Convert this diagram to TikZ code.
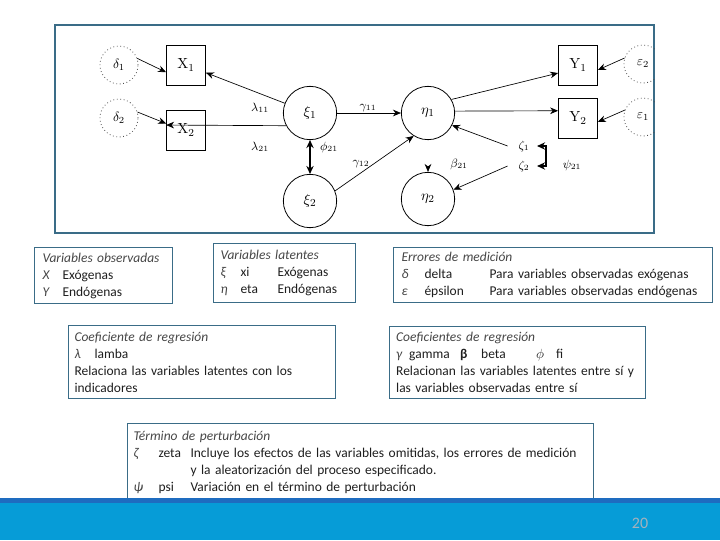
\documentclass[tikz,border=0pt]{standalone}
\usepackage[no-math]{fontspec}
\setmainfont{Carlito}
\usetikzlibrary{arrows.meta,positioning,calc}

\definecolor{framecol}{RGB}{58,108,135}
\definecolor{barcol}{RGB}{6,156,215}
\definecolor{bardark}{RGB}{30,108,192}
\definecolor{inkcol}{RGB}{30,30,30}
\definecolor{headcol}{RGB}{70,70,70}
\definecolor{pagecol}{RGB}{165,178,188}

\newcommand{\hd}[1]{\textit{\color{headcol}#1}}
\newcommand{\cell}[2]{\makebox[#1][l]{#2}}
\newcommand{\sym}[1]{\textit{\color{headcol}#1}}

\begin{document}
\begin{tikzpicture}[x=0.75pt, y=-0.75pt,
    observed/.style={rectangle, draw, line width=0.6pt, minimum width=29.25pt, minimum height=30pt, inner sep=0pt, font=\fontsize{11}{12}\selectfont},
    latent/.style={circle, draw, line width=0.6pt, minimum size=40pt, inner sep=0pt, font=\fontsize{11}{12}\selectfont},
    errcirc/.style={circle, draw=black!70, dotted, line width=0.6pt, minimum size=28.5pt, inner sep=0pt, font=\fontsize{10}{12}\selectfont},
    coef/.style={inner sep=1pt, font=\fontsize{9}{10}\selectfont},
    arrow/.style={-{Stealth[length=6pt,width=5pt]}, line width=0.5pt},
    dblarrow/.style={{Stealth[length=6pt,width=5.5pt]}-{Stealth[length=6pt,width=5.5pt]}, line width=1pt},
    legend/.style={draw=framecol, line width=0.8pt, anchor=north west, align=left, inner ysep=0pt, text=inkcol, font=\fontsize{10.1}{12.75}\selectfont}
]
\useasboundingbox (0,0) rectangle (720,540);

% path diagram
\node[draw=framecol, line width=0.8pt, minimum width=449.25pt, minimum height=156pt, inner sep=0pt] (frame) at (354.5,129) {};
\begin{scope}
  \clip (frame.south west) rectangle (frame.north east);
  \node[errcirc] (e2) at (643,64) {$\varepsilon_2$};
  \node[errcirc] (e1) at (643,117) {$\varepsilon_1$};
\end{scope}

\node[errcirc] (d1) at (119,65) {$\delta_1$};
\node[errcirc] (d2) at (119,118) {$\delta_2$};
\node[observed] (x1) at (186,65) {$\mathrm{X}_1$};
\node[observed] (x2) at (186,130) {$\mathrm{X}_2$};
\node[observed] (y1) at (578,65) {$\mathrm{Y}_1$};
\node[observed] (y2) at (578,118) {$\mathrm{Y}_2$};
\node[latent] (xi1) at (310,113) {$\xi_1$};
\node[latent] (xi2) at (310,201) {$\xi_2$};
\node[latent] (eta1) at (428,113) {$\eta_1$};
\node[latent] (eta2) at (428,199) {$\eta_2$};

\node[coef] (l11) at (260,108) {$\lambda_{11}$};
\node[coef] (l21) at (260,147) {$\lambda_{21}$};
\node[coef] (f21) at (329,147) {$\phi_{21}$};
\node[coef] (g11) at (368,108) {$\gamma_{11}$};
\node[coef] (g12) at (361,164) {$\gamma_{12}$};
\node[coef] (b21) at (459,164) {$\beta_{21}$};
\node[coef] (z1) at (524,146) {$\zeta_1$};
\node[coef] (z2) at (524,166) {$\zeta_2$};
\node[coef] (p21) at (572,165) {$\psi_{21}$};

\draw[arrow] (d1.20) -- (x1.200);
\draw[arrow] (d2.18) -- (x2.162);
\draw[arrow] (xi1) -- (x1);
\draw[arrow] (xi1.208) -- (x2.166);
\draw[arrow] (xi1) -- (eta1);
\draw[dblarrow] (xi1) -- (xi2);
\draw[arrow] (xi2.22) -- (eta1.238);
\draw[arrow] (eta1.30) -- (y1.202);
\draw[arrow] (eta1.4) -- (y2.160);
\draw[arrow] (e2.162) -- (y1.346);
\draw[arrow] (e1.159) -- (y2.349);
\draw[arrow] ([xshift=-7pt]z1.west) -- (eta1.333);
\draw[arrow] ([xshift=-7pt]z2.west) -- (eta2.20);
\coordinate (b21tail) at ($(eta2.north)+(0,-6)$);
\draw[arrow] (b21tail) -- (eta2.north);
\draw[dblarrow] ([xshift=4.5pt]z1.east) -- ++(9,0) |- ([xshift=4.5pt]z2.east);

% legend boxes
\node[legend, text width=91.5pt, inner xsep=6pt, minimum height=42pt] (obs) at (34,247)
  {\hd{Variables observadas}\\ \cell{15pt}{\sym{X}}Exógenas\\ \cell{15pt}{\sym{Y}}Endógenas};
\node[legend, text width=96pt, inner xsep=5.25pt, minimum height=44.25pt] (lat) at (213,243)
  {\hd{Variables latentes}\\ \cell{15pt}{\sym{ξ}}\cell{27.75pt}{xi}Exógenas\\ \cell{15pt}{\sym{η}}\cell{27.75pt}{eta}Endógenas};
\node[legend, text width=227pt, inner xsep=6pt, minimum height=41.25pt] (err) at (393,247)
  {\hd{Errores de medición}\\ \cell{17.25pt}{\sym{δ}}\cell{48.75pt}{delta}Para variables observadas exógenas\\ \cell{17.25pt}{\sym{ε}}\cell{48.75pt}{épsilon}Para variables observadas endógenas};
\node[legend, text width=191.25pt, inner xsep=4.5pt, minimum height=54.75pt] (reg) at (68,325)
  {\hd{Coeficiente de regresión}\\ \cell{15pt}{\sym{λ}}lamba\\ Relaciona las variables latentes con los\\ indicadores};
\node[legend, text width=182pt, inner xsep=5pt, minimum height=54pt] (regs) at (389,326)
  {\hd{Coeficientes de regresión}\\ \cell{9.75pt}{\sym{γ}}\cell{38.25pt}{gamma}\cell{15.75pt}{\textbf{β}}\cell{41.25pt}{beta}\cell{15pt}{$\phi$}fi\\ Relacionan las variables latentes entre sí y\\ las variables observadas entre sí};
\node[legend, text width=340.5pt, inner xsep=4.5pt, minimum height=58.5pt] (dist) at (127,423)
  {\hd{Término de perturbación}\\ \cell{18.75pt}{\sym{ζ}}\cell{24pt}{zeta}Incluye los efectos de las variables omitidas, los errores de medición\\ \hspace*{42.75pt}y la aleatorización del proceso especificado.\\ \cell{18.75pt}{\sym{ψ}}\cell{24pt}{psi}Variación en el término de perturbación};

% footer bar
\fill[barcol] (0,498) rectangle (720,540);
\fill[bardark] (0,498) rectangle (720,503);
\node[text=pagecol, font=\fontsize{12}{14}\selectfont] (page) at (640,523) {20};
\end{tikzpicture}
\end{document}
